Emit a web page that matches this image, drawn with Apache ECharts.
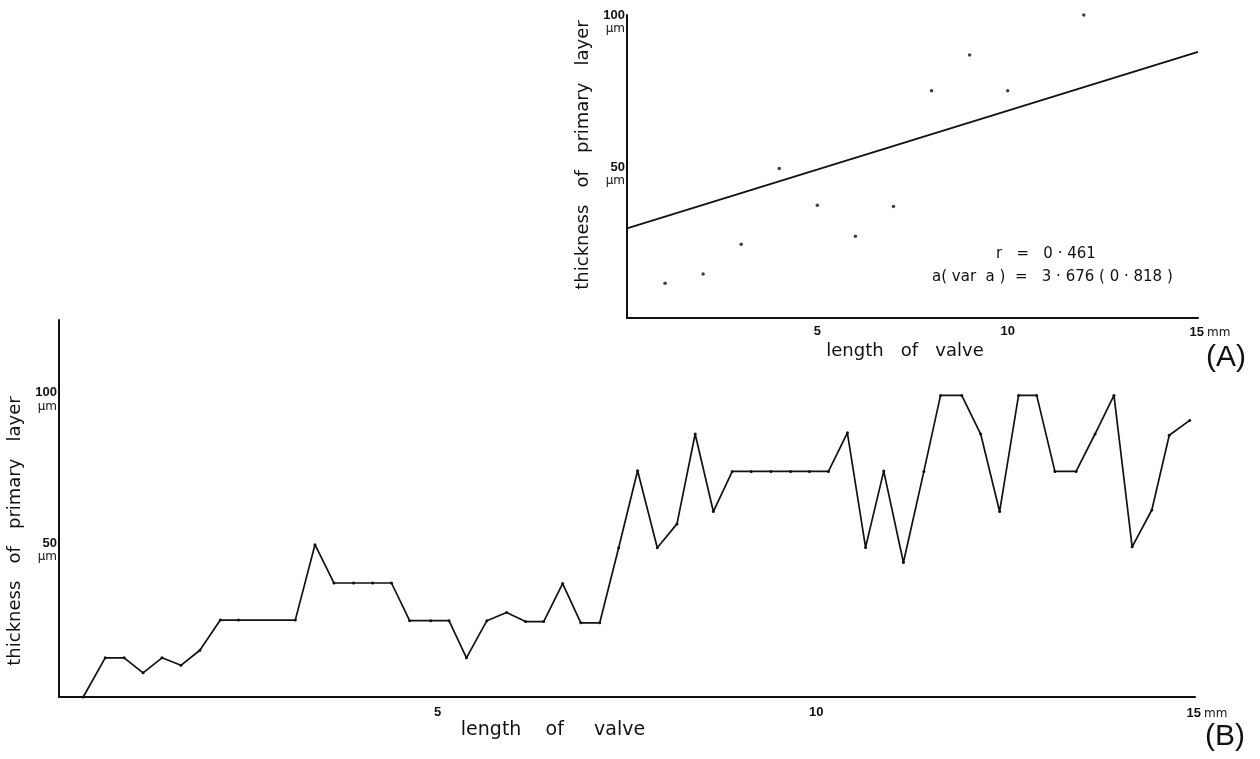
<!DOCTYPE html>
<html>
<head>
<meta charset="utf-8">
<script src="https://cdn.jsdelivr.net/npm/echarts@6/dist/echarts.min.js"></script>
<style>
  html, body { margin: 0; padding: 0; background: #fff; }
  #main { width: 1260px; height: 759px; }
</style>
</head>
<body>
<div id="main"></div>
<script>
// (A) valve length (mm) vs thickness of primary layer (um)
const lengthA = [1, 2, 3, 4, 5, 6, 7, 8, 9, 10, 12];
const thickA = [11.5, 14.5, 24.3, 49.3, 37.2, 27, 36.8, 75, 86.8, 75, 100];
// regression line end points
const fitX = [0, 15];
const fitY = [29.6, 87.8];

// (B) profile along one valve
const lengthB = [0.32, 0.61, 0.86, 1.11, 1.36, 1.61, 1.86, 2.13, 2.37, 3.12,
  3.38, 3.63, 3.89, 4.14, 4.39, 4.63, 4.91, 5.15, 5.38, 5.65,
  5.91, 6.16, 6.40, 6.65, 6.89, 7.14, 7.39, 7.64, 7.90, 8.16,
  8.40, 8.64, 8.89, 9.14, 9.40, 9.66, 9.91, 10.16, 10.41, 10.65,
  10.89, 11.15, 11.42, 11.64, 11.92, 12.17, 12.42, 12.67, 12.91, 13.15,
  13.43, 13.68, 13.93, 14.17, 14.43, 14.66, 14.93];
const thickB = [0, 13, 13, 8, 13, 10.5, 15.5, 25.5, 25.5, 25.5,
  50.5, 37.8, 37.8, 37.8, 37.8, 25.3, 25.3, 25.3, 13, 25.3,
  28, 25, 25, 37.6, 24.6, 24.6, 49.5, 75, 49.5, 57.4,
  87.2, 61.5, 74.8, 74.8, 74.8, 74.8, 74.8, 74.8, 87.6, 49.6,
  74.9, 44.6, 74.8, 100, 100, 87.2, 61.5, 100, 100, 74.8,
  74.8, 87.2, 100, 49.8, 62, 86.8, 91.7];

const xTicks = [5, 10, 15];
const yTicks = [50, 100];

const INK = '#111';
const pair = (xs, ys) => xs.map((x, i) => [x, ys[i]]);

function xLabel(v) {
    if (v === 15) return '{sp|}{n|15}{u|mm}';
    return xTicks.indexOf(v) >= 0 ? '{n|' + v + '}' : '';
}
function yLabel(v) {
    return yTicks.indexOf(v) >= 0 ? '{n|' + v + '}\n{u|μm}' : '';
}

function xAxisOf(gridIndex, margin) {
    return {
        type: 'value', gridIndex: gridIndex, min: 0, max: 15, interval: 5,
        axisLine: { lineStyle: { color: INK, width: 2 } },
        axisTick: { show: false },
        splitLine: { show: false },
        axisLabel: {
            margin: margin,
            formatter: xLabel,
            rich: {
                sp: { width: 24 },
                n: { fontFamily: 'Liberation Sans', fontWeight: 'bold', fontSize: 13, color: INK },
                u: { fontFamily: 'DejaVu Sans', fontSize: 12, color: INK, padding: [2, 0, 0, 3] }
            }
        }
    };
}
function yAxisOf(gridIndex, max, padTop) {
    return {
        type: 'value', gridIndex: gridIndex, min: 0, max: max, interval: 50,
        axisLine: { show: true, lineStyle: { color: INK, width: 2 } },
        axisTick: { show: false },
        splitLine: { show: false },
        axisLabel: {
            margin: 2,
            align: 'right',
            padding: [padTop, 0, 0, 0],
            formatter: yLabel,
            rich: {
                n: { fontFamily: 'Liberation Sans', fontWeight: 'bold', fontSize: 13, color: INK, align: 'right', lineHeight: 14 },
                u: { fontFamily: 'DejaVu Sans', fontSize: 12, color: INK, align: 'right', lineHeight: 13 }
            }
        }
    };
}

const TITLE_FONT = '18px "DejaVu Sans"';

var myChart = echarts.init(document.getElementById('main'));
let option = {
    animation: false,
    backgroundColor: '#fff',
    grid: [
        { left: 627, top: 15, width: 571, height: 303 },
        { left: 59, top: 320, width: 1136, height: 377 }
    ],
    xAxis: [xAxisOf(0, 7), xAxisOf(1, 9)],
    yAxis: [yAxisOf(0, 100, 14), yAxisOf(1, 125, 8)],
    series: [
        {
            name: 'A points', type: 'scatter', xAxisIndex: 0, yAxisIndex: 0,
            symbol: 'circle', symbolSize: 3.5,
            itemStyle: { color: INK },
            data: pair(lengthA, thickA)
        },
        {
            name: 'A fit', type: 'line', xAxisIndex: 0, yAxisIndex: 0,
            symbol: 'none',
            lineStyle: { color: INK, width: 1.8 },
            data: pair(fitX, fitY)
        },
        {
            name: 'B profile', type: 'line', xAxisIndex: 1, yAxisIndex: 1,
            symbol: 'circle', symbolSize: 3, showAllSymbol: true,
            itemStyle: { color: INK },
            lineStyle: { color: INK, width: 1.7 },
            data: pair(lengthB, thickB)
        }
    ],
    graphic: [
        // axis titles
        { type: 'text', x: 583, y: 155, rotation: Math.PI / 2,
          style: { text: 'thickness   of   primary   layer', font: TITLE_FONT, fill: INK, textAlign: 'center', textVerticalAlign: 'middle' } },
        { type: 'text', x: 15, y: 531, rotation: Math.PI / 2,
          style: { text: 'thickness   of   primary   layer', font: TITLE_FONT, fill: INK, textAlign: 'center', textVerticalAlign: 'middle' } },
        { type: 'text', x: 905, y: 351,
          style: { text: 'length   of   valve', font: TITLE_FONT, fill: INK, textAlign: 'center', textVerticalAlign: 'middle' } },
        { type: 'text', x: 553, y: 730,
          style: { text: 'length    of     valve', font: '19px "DejaVu Sans"', fill: INK, textAlign: 'center', textVerticalAlign: 'middle' } },
        // statistics
        { type: 'text', x: 996, y: 254,
          style: { text: 'r   =   0 · 461', font: '15px "DejaVu Sans"', fill: INK, textAlign: 'left', textVerticalAlign: 'middle' } },
        { type: 'text', x: 932, y: 277,
          style: { text: 'a( var  a )  =   3 · 676 ( 0 · 818 )', font: '15px "DejaVu Sans"', fill: INK, textAlign: 'left', textVerticalAlign: 'middle' } },
        // panel letters
        { type: 'text', x: 1226, y: 358,
          style: { text: '(A)', font: '30px "Liberation Sans"', fill: INK, textAlign: 'center', textVerticalAlign: 'middle' } },
        { type: 'text', x: 1225, y: 737,
          style: { text: '(B)', font: '30px "Liberation Sans"', fill: INK, textAlign: 'center', textVerticalAlign: 'middle' } }
    ]
};
myChart.setOption(option);
</script>
</body>
</html>
